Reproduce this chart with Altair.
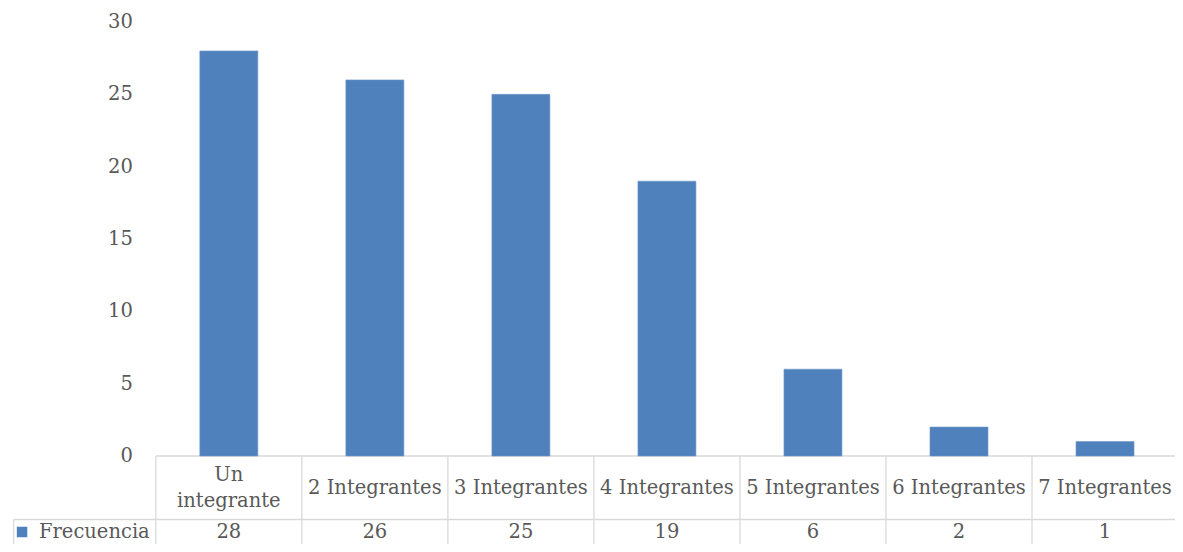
import altair as alt
import numpy as np
import pandas as pd

# ---- data ----
categories = ["Un integrante", "2 Integrantes", "3 Integrantes", "4 Integrantes",
              "5 Integrantes", "6 Integrantes", "7 Integrantes"]
header_labels = ["Un\nintegrante", "2 Integrantes", "3 Integrantes", "4 Integrantes",
                 "5 Integrantes", "6 Integrantes", "7 Integrantes"]
frecuencia = [28, 26, 25, 19, 6, 2, 1]
series_name = "Frecuencia"
y_ticks = [0, 5, 10, 15, 20, 25, 30]

# ---- styling / layout constants ----
BLUE = "#4F81BD"
TEXT = "#595959"
GRID = "#D9D9D9"
FONT = "DejaVu Serif"
FS = 19.5
LINE_H = 26                            # px between header text lines

n = len(categories)
X_MIN, X_MAX = -0.978, 6.945           # legend column left of the first category
Y_MIN, Y_MAX = -6.083, 30.97           # negative part holds the data table
PX_PER_UNIT = 14.467
HEADER_Y = -2.246                      # centre of header row
HEADER_BOTTOM = -4.39                  # border between header and value rows
LEGEND_LEFT = -0.974                   # left border of the legend cell
VALUE_Y = -5.253                       # centre of values row
KEY_X = -0.916                         # legend key square
KEY_LABEL_X = -0.80                    # legend key label
TICK_LABEL_X = -0.157                  # right edge of y tick labels

df = pd.DataFrame({
    "cat": categories,
    "val": frecuencia,
    "pos": np.arange(n) + 0.5,
    "header": header_labels,
})
nlines = np.array([h.count("\n") + 1 for h in header_labels])
df["hy"] = HEADER_Y + (nlines - 1) * (LINE_H / PX_PER_UNIT) / 2
df["vy"] = VALUE_Y
df["vtext"] = [str(v) for v in frecuencia]

key = pd.DataFrame({"serie": [series_name], "kx": [KEY_X], "lx": [KEY_LABEL_X],
                    "ky": [VALUE_Y]})
ticks = pd.DataFrame({"t": y_ticks, "tx": [TICK_LABEL_X] * len(y_ticks),
                      "tl": [str(t) for t in y_ticks]})

xs = alt.Scale(domain=[X_MIN, X_MAX], nice=False, zero=False)
ys = alt.Scale(domain=[Y_MIN, Y_MAX], nice=False, zero=False)

def X(f):
    return alt.X(f, scale=xs, axis=None)

def Y(f):
    return alt.Y(f, scale=ys, axis=None)

bars = alt.Chart(df).mark_bar(size=58, color=BLUE, stroke="#6F97CB",
                              strokeWidth=0.6).encode(x=X("pos:Q"), y=Y("val:Q"))

tick_text = alt.Chart(ticks).mark_text(font=FONT, fontSize=FS, color=TEXT,
                                       baseline="middle", align="right").encode(
    x=X("tx:Q"), y=Y("t:Q"), text="tl:N")

# table grid lines
hlines = pd.DataFrame({
    "x": [0.0, LEGEND_LEFT],
    "x2": [float(n), float(n)],
    "y": [0.0, HEADER_BOTTOM],
})
vlines = pd.DataFrame({
    "x": [LEGEND_LEFT] + list(np.arange(n).astype(float)),
    "y": [HEADER_BOTTOM] + [0.0] * n,
    "y2": [Y_MIN] * (n + 1),
})

hrule = alt.Chart(hlines).mark_rule(color=GRID, strokeWidth=1.3).encode(
    x=X("x:Q"), x2="x2:Q", y=Y("y:Q"))
vrule = alt.Chart(vlines).mark_rule(color=GRID, strokeWidth=1.3).encode(
    x=X("x:Q"), y=Y("y:Q"), y2="y2:Q")

header_text = alt.Chart(df).mark_text(font=FONT, fontSize=FS, color=TEXT,
                                      baseline="middle", align="center",
                                      lineHeight=LINE_H, lineBreak="\n").encode(
    x=X("pos:Q"), y=Y("hy:Q"), text="header:N")

value_text = alt.Chart(df).mark_text(font=FONT, fontSize=FS, color=TEXT,
                                     baseline="middle", align="center").encode(
    x=X("pos:Q"), y=Y("vy:Q"), text="vtext:N")

key_square = alt.Chart(key).mark_square(size=110, color=BLUE, opacity=1).encode(
    x=X("kx:Q"), y=Y("ky:Q"))
key_text = alt.Chart(key).mark_text(font=FONT, fontSize=FS, color=TEXT,
                                    baseline="middle", align="left").encode(
    x=X("lx:Q"), y=Y("ky:Q"), text="serie:N")

chart = alt.layer(hrule, vrule, bars, tick_text, header_text, value_text,
                  key_square, key_text).properties(
    width=1167, height=536, padding=0,
    autosize=alt.AutoSizeParams(type="none"),
).configure_view(stroke=None)

chart.save("out.html", embed_options={"renderer": "svg", "actions": False})
